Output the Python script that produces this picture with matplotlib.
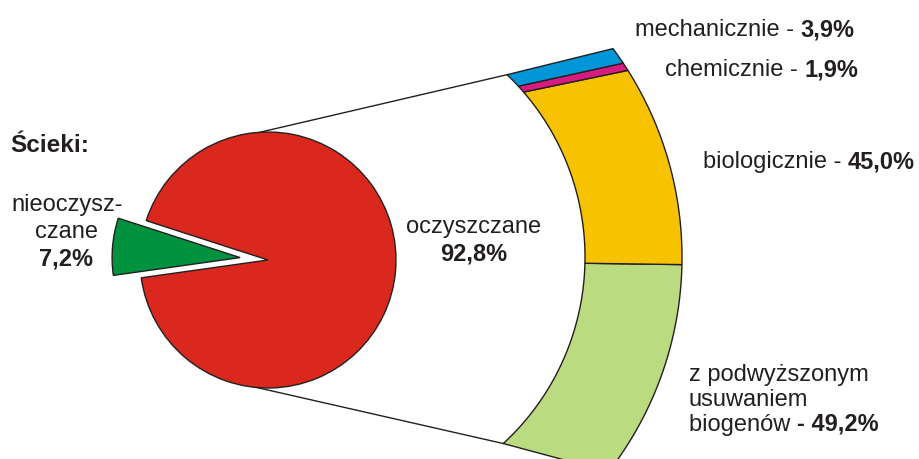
import numpy as np
import matplotlib
matplotlib.use("Agg")
import matplotlib.pyplot as plt
from matplotlib.patches import Polygon

plt.rcParams['font.family'] = ['Liberation Sans', 'DejaVu Sans']

# dane
pie_labels = ['oczyszczane', 'nieoczyszczane']
pie_values = [92.8, 7.2]
pie_colors = ['#DA281E', '#00923F']

# od dolu do gory
sub_labels = ['z podwyższonym usuwaniem biogenów', 'biologicznie', 'chemicznie', 'mechanicznie']
sub_values = [49.2, 45.0, 1.9, 3.9]
sub_colors = ['#BADB7F', '#F7C300', '#D81B7E', '#0096D8']

W, H = 919, 459
edge = '#231F20'
txt = '#231F20'

fig = plt.figure(figsize=(W / 100, H / 100), dpi=100)
ax = fig.add_axes([0, 0, 1, 1])

def Y(y):
    # piksele liczone od gory
    return H - y

# kolo (explode w jednostkach danych, tu piksele)
pc = (268, Y(260))
pr = 128
ax.pie(pie_values, colors=pie_colors, startangle=188, explode=[0, 28],
       center=pc, radius=pr,
       wedgeprops=dict(edgecolor=edge, linewidth=1.0))

# wycinek pierscienia po prawej
sc = (332, Y(257.3))
r_in, r_out = 253, 350
a_in = (-47.4, 46.2)
a_out = (-37.8, 36.6)

def arc(r, a0, a1, n=60):
    t = np.radians(np.linspace(a0, a1, n))
    return np.column_stack([sc[0] + r * np.cos(t), sc[1] + r * np.sin(t)])

cum = np.concatenate([[0], np.cumsum(sub_values)]) / np.sum(sub_values)
for i, col in enumerate(sub_colors):
    t0, t1 = cum[i], cum[i + 1]
    i0 = a_in[0] + t0 * (a_in[1] - a_in[0])
    i1 = a_in[0] + t1 * (a_in[1] - a_in[0])
    o0 = a_out[0] + t0 * (a_out[1] - a_out[0])
    o1 = a_out[0] + t1 * (a_out[1] - a_out[0])
    pts = np.vstack([arc(r_in, i0, i1), arc(r_out, o1, o0)])
    ax.add_patch(Polygon(pts, closed=True, facecolor=col, edgecolor=edge,
                         linewidth=1.0, zorder=3))

# linie laczace
for pa, sa in [(93.6, a_in[1]), (-95.0, a_in[0])]:
    x0 = pc[0] + pr * np.cos(np.radians(pa))
    y0 = pc[1] + pr * np.sin(np.radians(pa))
    x1 = sc[0] + r_in * np.cos(np.radians(sa))
    y1 = sc[1] + r_in * np.sin(np.radians(sa))
    ax.plot([x0, x1], [y0, y1], color=edge, lw=1.0, zorder=0)

ax.set_xlim(0, W)
ax.set_ylim(0, H)
ax.set_aspect('auto')
ax.axis('off')

fs = 17

def two_part(x, y, normal, bold):
    t = ax.text(x, Y(y), normal, fontsize=fs, color=txt, ha='left', va='baseline')
    ax.annotate(bold, xy=(1, 0), xycoords=t, fontsize=fs, color=txt,
                fontweight='bold', ha='left', va='bottom')

ax.text(10, Y(152), 'Ścieki:', fontsize=17.5, fontweight='bold', color=txt,
        ha='left', va='baseline')

ax.text(67, Y(211.5), 'nieoczysz-', fontsize=fs, color=txt, ha='center', va='baseline')
ax.text(67, Y(238), 'czane', fontsize=fs, color=txt, ha='center', va='baseline')
ax.text(66, Y(265.5), '7,2%', fontsize=fs, color=txt, ha='center', va='baseline', fontweight='bold')

ax.text(474, Y(233), 'oczyszczane', fontsize=fs, color=txt, ha='center', va='baseline')
ax.text(474, Y(261), '92,8%', fontsize=fs, color=txt, ha='center', va='baseline', fontweight='bold')

two_part(635, 36, 'mechanicznie - ', '3,9%')
two_part(665, 76, 'chemicznie - ', '1,9%')
two_part(703, 168, 'biologicznie - ', '45,0%')

ax.text(689, Y(381.5), 'z podwyższonym', fontsize=fs, color=txt, ha='left', va='baseline')
ax.text(689, Y(405.5), 'usuwaniem', fontsize=fs, color=txt, ha='left', va='baseline')
two_part(689, 431, 'biogenów ', '- 49,2%')

fig.savefig('out.png', dpi=100)
